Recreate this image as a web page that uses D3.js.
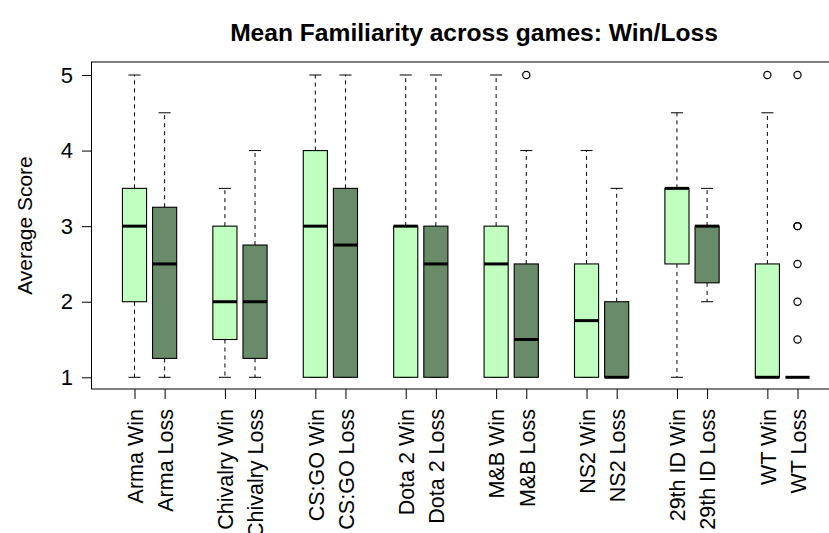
<!DOCTYPE html>
<html>
<head>
<meta charset="utf-8">
<script src="https://cdn.jsdelivr.net/npm/d3@7"></script>
<style>
  html, body { margin: 0; padding: 0; background: #fff; }
  svg { display: block; }
  text { font-family: "Liberation Sans", Arial, sans-serif; fill: #000; }
</style>
</head>
<body>
<svg id="chart" width="829" height="533"></svg>
<script>
// Boxplot summaries per game and outcome
const labels = ["Arma Win", "Arma Loss", "Chivalry Win", "Chivalry Loss",
  "CS:GO Win", "CS:GO Loss", "Dota 2 Win", "Dota 2 Loss",
  "M&B Win", "M&B Loss", "NS2 Win", "NS2 Loss",
  "29th ID Win", "29th ID Loss", "WT Win", "WT Loss"];
const positions = [1, 2, 4, 5, 7, 8, 10, 11, 13, 14, 16, 17, 19, 20, 22, 23];
const outcome = ["Win", "Loss", "Win", "Loss", "Win", "Loss", "Win", "Loss",
  "Win", "Loss", "Win", "Loss", "Win", "Loss", "Win", "Loss"];
const whiskerLow = [1, 1, 1, 1, 1, 1, 1, 1, 1, 1, 1, 1, 1, 2, 1, 1];
const q1 = [2, 1.25, 1.5, 1.25, 1, 1, 1, 1, 1, 1, 1, 1, 2.5, 2.25, 1, 1];
const median = [3, 2.5, 2, 2, 3, 2.75, 3, 2.5, 2.5, 1.5, 1.75, 1, 3.5, 3, 1, 1];
const q3 = [3.5, 3.25, 3, 2.75, 4, 3.5, 3, 3, 3, 2.5, 2.5, 2, 3.5, 3, 2.5, 1];
const whiskerHigh = [5, 4.5, 3.5, 4, 5, 5, 5, 5, 5, 4, 4, 3.5, 4.5, 3.5, 4.5, 1];
const outliers = [[], [], [], [], [], [], [], [], [], [5], [], [], [], [], [5], [5, 3, 3, 2.5, 2, 1.5]];
const yTicks = [1, 2, 3, 4, 5];
const fills = { Win: "#C1FFC1", Loss: "#698B69" };

const svg = d3.select("#chart");
const plot = { left: 91.5, top: 62, bottom: 389, right: 860 };

const x = d3.scaleLinear().domain([1, 23]).range([134.5, 797.5]);
const y = d3.scaleLinear().domain([1, 5]).range([377.3, 75]);
const boxW = x(1.4) - x(0.6);
const stapleW = boxW / 2;

// Title
svg.append("text")
  .attr("x", 474).attr("y", 40.5)
  .attr("text-anchor", "middle")
  .attr("font-size", "24.6px").attr("font-weight", "bold")
  .text("Mean Familiarity across games: Win/Loss");

// Y axis title
svg.append("text")
  .attr("transform", `translate(31.5, ${(plot.top + plot.bottom) / 2}) rotate(-90)`)
  .attr("text-anchor", "middle")
  .attr("font-size", "21px")
  .text("Average Score");

// Y axis
const yAxis = d3.axisLeft(y).tickValues(yTicks).tickSize(9.5).tickPadding(9).tickFormat(d3.format("d"));
const gy = svg.append("g").attr("transform", `translate(${plot.left},0)`).call(yAxis);
gy.select(".domain").remove();
gy.selectAll(".tick line").attr("stroke", "#000");
gy.selectAll(".tick text").attr("font-size", "22px").attr("font-family", "Liberation Sans, Arial, sans-serif").attr("fill", "#000");

// X axis with rotated labels
const xAxis = d3.axisBottom(x).tickValues(positions).tickSize(10).tickFormat((d, i) => labels[i]);
const gx = svg.append("g").attr("transform", `translate(0,${plot.bottom})`).call(xAxis);
gx.select(".domain").remove();
gx.selectAll(".tick line").attr("stroke", "#000");
gx.selectAll(".tick text")
  .attr("font-size", "21.5px").attr("font-family", "Liberation Sans, Arial, sans-serif").attr("fill", "#000")
  .attr("text-anchor", "end")
  .attr("transform", "rotate(-90)")
  .attr("x", -20).attr("y", 0).attr("dy", "0.36em");

// Boxes
const data = labels.map((lab, i) => ({
  lab, pos: positions[i], kind: outcome[i], lo: whiskerLow[i], q1: q1[i],
  med: median[i], q3: q3[i], hi: whiskerHigh[i], out: outliers[i]
}));

const g = svg.append("g");
const box = g.selectAll("g.box").data(data).join("g").attr("class", "box");

// dashed whiskers
box.append("line")
  .attr("x1", d => x(d.pos)).attr("x2", d => x(d.pos))
  .attr("y1", d => y(d.q3)).attr("y2", d => y(d.hi))
  .attr("stroke", "#000").attr("stroke-width", 1).attr("stroke-dasharray", "4,4");
box.append("line")
  .attr("x1", d => x(d.pos)).attr("x2", d => x(d.pos))
  .attr("y1", d => y(d.q1)).attr("y2", d => y(d.lo))
  .attr("stroke", "#000").attr("stroke-width", 1).attr("stroke-dasharray", "4,4");
// staples
box.append("line")
  .attr("x1", d => x(d.pos) - stapleW / 2).attr("x2", d => x(d.pos) + stapleW / 2)
  .attr("y1", d => y(d.hi)).attr("y2", d => y(d.hi))
  .attr("stroke", "#000").attr("stroke-width", 1);
box.append("line")
  .attr("x1", d => x(d.pos) - stapleW / 2).attr("x2", d => x(d.pos) + stapleW / 2)
  .attr("y1", d => y(d.lo)).attr("y2", d => y(d.lo))
  .attr("stroke", "#000").attr("stroke-width", 1);
// box body
box.append("rect")
  .attr("x", d => x(d.pos) - boxW / 2).attr("width", boxW)
  .attr("y", d => y(d.q3)).attr("height", d => y(d.q1) - y(d.q3))
  .attr("fill", d => fills[d.kind]).attr("stroke", "#000").attr("stroke-width", 1.1);
// median
box.append("line")
  .attr("x1", d => x(d.pos) - boxW / 2).attr("x2", d => x(d.pos) + boxW / 2)
  .attr("y1", d => y(d.med)).attr("y2", d => y(d.med))
  .attr("stroke", "#000").attr("stroke-width", 3);
// outliers
box.selectAll("circle").data(d => d.out.map(v => ({ pos: d.pos, v }))).join("circle")
  .attr("cx", d => x(d.pos)).attr("cy", d => y(d.v)).attr("r", 3.6)
  .attr("fill", "none").attr("stroke", "#000").attr("stroke-width", 1.2);

// Plot frame
svg.append("rect")
  .attr("x", plot.left).attr("y", plot.top)
  .attr("width", plot.right - plot.left).attr("height", plot.bottom - plot.top)
  .attr("fill", "none").attr("stroke", "#000").attr("stroke-width", 1);
</script>
</body>
</html>
